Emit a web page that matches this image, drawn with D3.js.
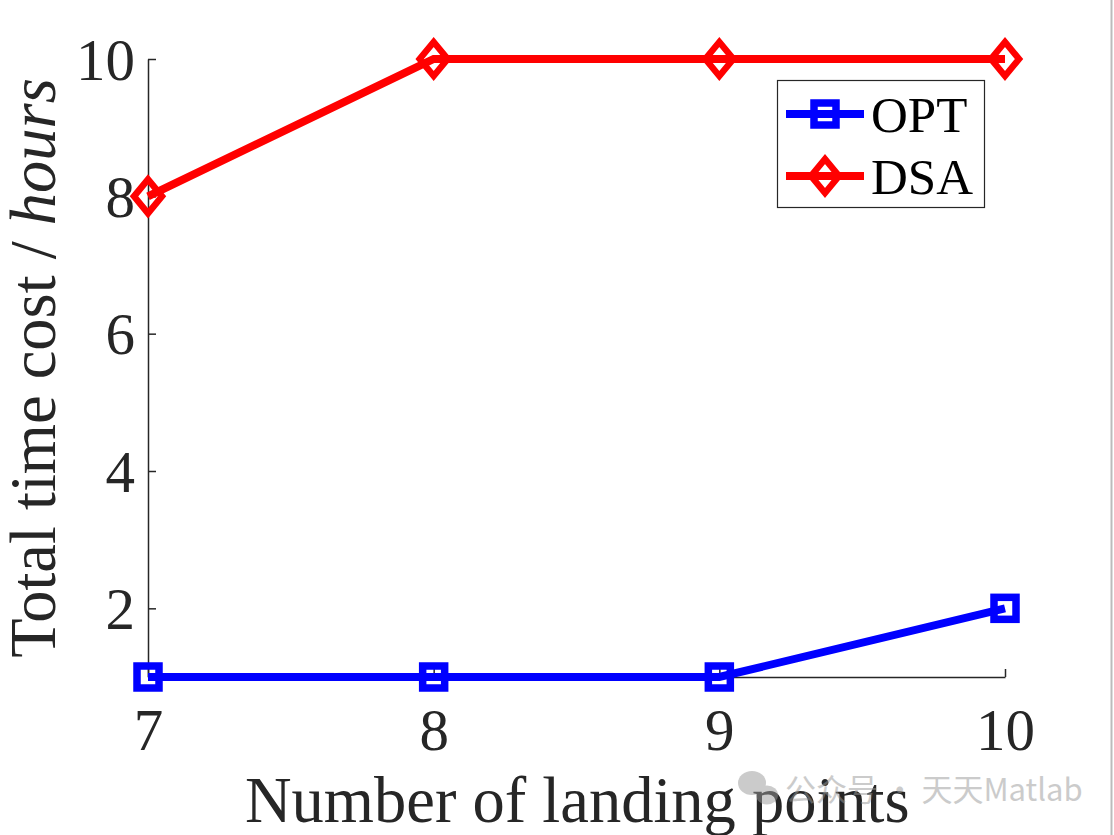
<!DOCTYPE html>
<html><head><meta charset="utf-8">
<script src="https://cdn.jsdelivr.net/npm/d3@7"></script>
<style>body{margin:0;background:#fff;} svg{display:block;}</style>
</head><body>
<script>
const categories = [7, 8, 9, 10];
const optValues = [1, 1, 1, 2];
const dsaValues = [8, 10, 10, 10];
const yTicks = [2, 4, 6, 8, 10];
const seriesNames = ["OPT", "DSA"];

const W = 1114, H = 835;
const L = 148, R = 1005, T = 59, B = 677;
const svg = d3.select("body").append("svg").attr("width", W).attr("height", H);
const x = d3.scaleLinear().domain([7, 10]).range([L, R]);
const y = d3.scaleLinear().domain([1, 10]).range([B, T]);
const axCol = "#262626";
const font = "'Liberation Serif','Times New Roman',serif";

// axes
const xAxis = d3.axisBottom(x).tickValues(categories).tickSizeInner(-8).tickSizeOuter(0).tickPadding(31).tickFormat(d3.format("d"));
const gx = svg.append("g").attr("transform", `translate(0,${B})`).call(xAxis);
const yAxis = d3.axisLeft(y).tickValues(yTicks).tickSizeInner(-8).tickSizeOuter(0).tickPadding(13).tickFormat(d3.format("d"));
const gy = svg.append("g").attr("transform", `translate(${L},0)`).call(yAxis);
[gx, gy].forEach(g => {
  g.select(".domain").attr("stroke", axCol).attr("stroke-width", 1.5);
  g.selectAll(".tick line").attr("stroke", axCol).attr("stroke-width", 1.5);
  g.selectAll(".tick text").attr("fill", axCol).style("font-family", font).style("font-size", "59px");
});
gx.selectAll(".tick text").attr("dy", "0.71em");
gy.selectAll(".tick text").attr("dy", "0.34em");

// labels
svg.append("text").attr("x", 245).attr("y", 822).attr("text-anchor", "start")
  .attr("fill", axCol).style("font-family", font).style("font-size", "64.5px").text("Number of landing points");
const yl = svg.append("text").attr("transform", `translate(55,368) rotate(-90)`).attr("text-anchor", "middle")
  .attr("fill", axCol).style("font-family", font).style("font-size", "64.5px");
yl.append("tspan").text("Total time cost / ");
yl.append("tspan").style("font-style", "italic").text("hours");

// series
const series = [
  {name: seriesNames[0], vals: optValues, color: "#0000FF", marker: "square"},
  {name: seriesNames[1], vals: dsaValues, color: "#FF0000", marker: "diamond"}
];
const line = d3.line().x((d, i) => x(categories[i])).y(d => y(d));
function drawMarker(g, type, cx, cy, color) {
  if (type === "square") {
    g.append("rect").attr("x", cx - 11).attr("y", cy - 11).attr("width", 22).attr("height", 22)
      .attr("fill", "none").attr("stroke", color).attr("stroke-width", 7.5);
  } else {
    g.append("path").attr("d", `M${cx},${cy - 17}L${cx + 14},${cy}L${cx},${cy + 17}L${cx - 14},${cy}Z`)
      .attr("fill", "none").attr("stroke", color).attr("stroke-width", 6.5);
  }
}
series.forEach(s => {
  svg.append("path").datum(s.vals).attr("d", line).attr("fill", "none").attr("stroke", s.color).attr("stroke-width", 8);
  const g = svg.append("g");
  s.vals.forEach((v, i) => drawMarker(g, s.marker, x(categories[i]), y(v), s.color));
});

// legend
const lg = svg.append("g");
lg.append("rect").attr("x", 777.5).attr("y", 80.5).attr("width", 207).attr("height", 127)
  .attr("fill", "#fff").attr("stroke", axCol).attr("stroke-width", 1.2);
series.forEach((s, i) => {
  const ly = 114 + i * 62;
  lg.append("line").attr("x1", 786).attr("x2", 864).attr("y1", ly).attr("y2", ly).attr("stroke", s.color).attr("stroke-width", 8);
  drawMarker(lg, s.marker, 825, ly, s.color);
  lg.append("text").attr("x", 871).attr("y", ly).attr("dy", "0.35em").attr("fill", "#000")
    .style("font-family", font).style("font-size", "51px").text(s.name);
});

// watermark
const wm = svg.append("g").attr("opacity", 0.5);
wm.append("ellipse").attr("cx", 752).attr("cy", 783).attr("rx", 14).attr("ry", 12).attr("fill", "#999");
wm.append("ellipse").attr("cx", 767).attr("cy", 795).attr("rx", 11).attr("ry", 9.5).attr("fill", "#999");
wm.append("text").attr("x", 785).attr("y", 801).attr("fill", "#999")
  .style("font-family", "'Noto Sans CJK SC','Noto Sans',sans-serif").style("font-size", "31px").text("公众号\u2009·\u2009天天Matlab");

// right border line of screenshot
svg.append("line").attr("x1", 1111.5).attr("x2", 1111.5).attr("y1", 0).attr("y2", H).attr("stroke", "#bbb").attr("stroke-width", 2);
</script>
</body></html>
